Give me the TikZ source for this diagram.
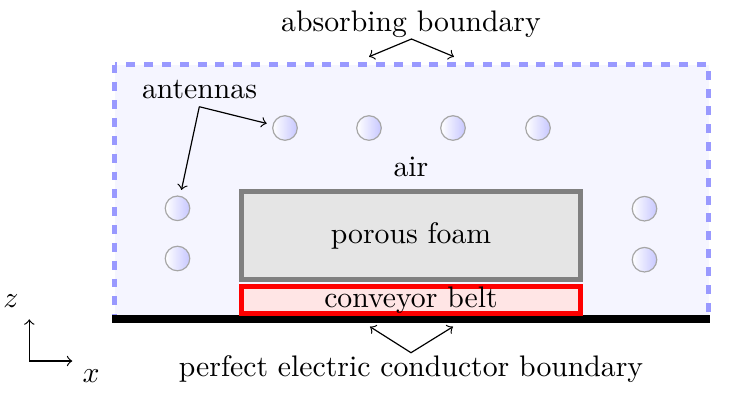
\documentclass[tikz,border=0pt]{standalone}
\tikzset{
  antenna/.style={circle,draw=gray!70,left color=white,right color=blue!22,minimum size=0.29cm,inner sep=0pt},
  label/.style={anchor=base,inner sep=0pt}
}
\begin{document}
\begin{tikzpicture}[x=0.011818cm,y=-0.011818cm]
        \useasboundingbox (0,0) rectangle (742,411);
        % domain with absorbing boundary
        \draw[blue!40,dashed,line width=1.5pt,fill=blue!4] (114.5,64.5) rectangle (708.5,319);
        \draw[line width=2.7pt] (112,319) -- (710,319);
        % foam and belt
        \node[draw=gray,fill=gray!20,ultra thick,minimum width=4.006cm,minimum height=1.04cm,inner sep=0pt] (foam) at (411,235.5) {porous foam};
        \node[draw=red,fill=red!10,ultra thick,minimum width=4.006cm,minimum height=0.319cm,inner sep=0pt] (belt) at (411,300) {conveyor belt};
        \node[label] (air) at (411,176) {air};
        % antennas
        \foreach \x [count=\i] in {285,369,453,538}
            \node[antenna] (a\i) at (\x,128) {};
        \node[antenna] (a5) at (177.5,208.3) {};
        \node[antenna] (a6) at (177.5,258.5) {};
        \node[antenna] (a7) at (644.5,208.7) {};
        \node[antenna] (a8) at (644.5,259.7) {};
        \node[label] (antlab) at (199.5,98.3) {antennas};
        \coordinate (ant) at (199.3,106.7);
        \draw[->,shorten >=2pt] (ant) -- (a1);
        \draw[->,shorten >=2pt] (ant) -- (a5);
        % boundaries
        \node[label] (abslab) at (411,31.5) {absorbing boundary};
        \coordinate (abs) at (411.5,39);
        \coordinate (absl) at (369,56.7);
        \coordinate (absr) at (454,56.7);
        \draw[<->] (absl) -- (abs) -- (absr);
        \node[label] (peclab) at (411,376.7) {perfect electric conductor boundary};
        \coordinate (pec) at (411,352.7);
        \coordinate (pecl) at (370,326.7);
        \coordinate (pecr) at (453,326.7);
        \draw[<->] (pecl) -- (pec) -- (pecr);
        % axes
        \coordinate (o) at (29.3,361);
        \coordinate (zend) at (29.3,319.3);
        \coordinate (xend) at (72.3,361);
        \draw[->] (o) -- (zend);
        \draw[->] (o) -- (xend);
        \node (zlab) at (11,301) {$z$};
        \node (xlab) at (91,376) {$x$};
    \end{tikzpicture}
\end{document}
